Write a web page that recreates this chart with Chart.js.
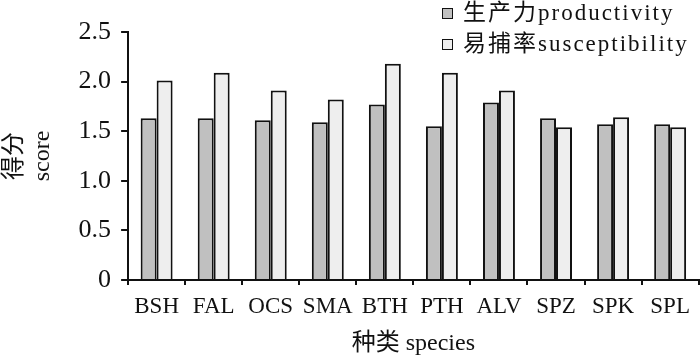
<!DOCTYPE html>
<html>
<head>
<meta charset="utf-8">
<script src="https://cdn.jsdelivr.net/npm/chart.js@4.4.1/dist/chart.umd.min.js"></script>
<style>
  body { margin: 0; background: #fff; }
  #wrap { position: relative; width: 700px; height: 358px; }
  #legend { position: absolute; left: 442px; top: 0; font-family: 'Liberation Serif', 'Noto Sans CJK SC', serif; font-size: 23px; letter-spacing: 2px; color: #111; }
  #legend .row { height: 31px; line-height: 25px; white-space: nowrap; }
  #legend .box { display: inline-block; width: 9px; height: 9px; border: 1.5px solid #111; margin-right: 10px; vertical-align: 1px; }
</style>
</head>
<body>
<div id="wrap">
  <canvas id="scoreChart"></canvas>
  <div id="legend"></div>
</div>
<script>
const species = ['BSH', 'FAL', 'OCS', 'SMA', 'BTH', 'PTH', 'ALV', 'SPZ', 'SPK', 'SPL'];
const productivity = [1.63, 1.63, 1.61, 1.59, 1.77, 1.55, 1.79, 1.63, 1.57, 1.57];
const susceptibility = [2.01, 2.09, 1.91, 1.82, 2.18, 2.09, 1.91, 1.54, 1.64, 1.54];
const seriesNames = ['生产力productivity', '易捕率susceptibility'];
const seriesColors = ['#c0c0c0', '#eeeeee'];

document.addEventListener('DOMContentLoaded', function () {
  const serif = "'Liberation Serif', 'Noto Sans CJK SC', serif";
  const ctx = document.getElementById('scoreChart').getContext('2d');
  const chart = new Chart(ctx, {
    type: 'bar',
    data: {
      labels: species,
      datasets: [productivity, susceptibility].map((vals, i) => ({
        label: seriesNames[i],
        data: vals,
        backgroundColor: seriesColors[i],
        borderColor: '#111',
        borderWidth: 2,
        categoryPercentage: 0.56,
        barPercentage: 1.0
      }))
    },
    options: {
      responsive: true,
      maintainAspectRatio: false,
      animation: false,
      layout: { padding: { top: 32, right: 1, left: 0, bottom: 2 } },
      plugins: { legend: { display: false }, tooltip: { enabled: false } },
      scales: {
        x: {
          grid: { drawOnChartArea: false, drawTicks: true, tickLength: 5, color: '#111', lineWidth: 2, offset: true },
          border: { color: '#111', width: 2 },
          ticks: { color: '#111', font: { family: serif, size: 23, lineHeight: 1 }, padding: 10, maxRotation: 0 },
          title: { display: true, text: '种类 species', color: '#111', font: { family: serif, size: 24, lineHeight: 1 }, padding: { top: 4, bottom: 0 } }
        },
        y: {
          min: 0,
          max: 2.5,
          grid: { drawOnChartArea: false, drawTicks: true, tickLength: 7, color: '#111', lineWidth: 2 },
          border: { color: '#111', width: 2 },
          ticks: {
            stepSize: 0.5,
            color: '#111',
            font: { family: serif, size: 26 },
            padding: 10,
            callback: v => v === 0 ? '0' : v.toFixed(1)
          },
          title: { display: true, text: ['得分', 'score'], color: '#111', font: { family: serif, size: 24 }, padding: { top: 0, bottom: 11 } }
        }
      }
    }
  });

  const legend = document.getElementById('legend');
  chart.data.datasets.forEach(ds => {
    const row = document.createElement('div');
    row.className = 'row';
    const box = document.createElement('span');
    box.className = 'box';
    box.style.background = ds.backgroundColor;
    row.appendChild(box);
    row.appendChild(document.createTextNode(ds.label));
    legend.appendChild(row);
  });
});
</script>
</body>
</html>
